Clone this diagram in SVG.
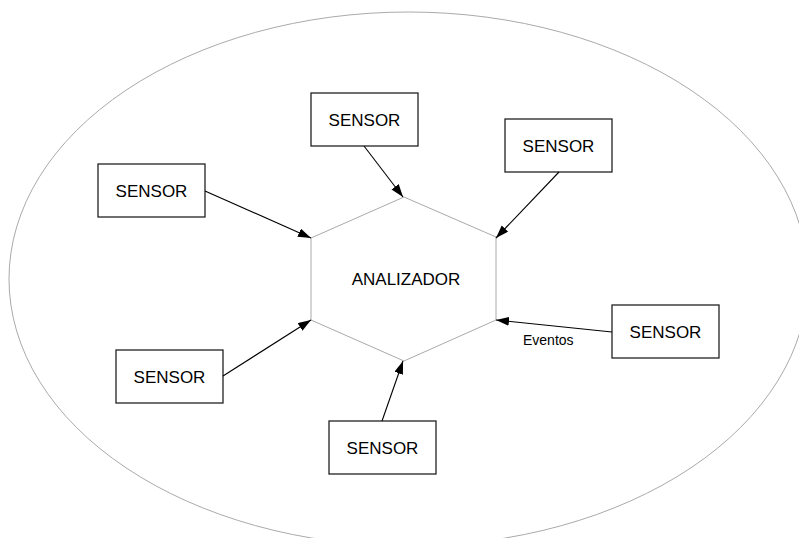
<svg xmlns="http://www.w3.org/2000/svg" width="799" height="538" viewBox="0 0 799 538">
  <style>
    .box { fill: #ffffff; stroke: #222222; stroke-width: 1.3; }
    .label { font-family: "Liberation Sans", Arial, sans-serif; font-size: 17px; fill: #000000; text-anchor: middle; }
    .edge { stroke: #000000; stroke-width: 1.1; fill: none; marker-end: url(#arrow); }
    .outline { fill: none; stroke: #aaaaaa; stroke-width: 1; }
  </style>
  <defs>
    <marker id="arrow" markerUnits="userSpaceOnUse" markerWidth="14" markerHeight="10" refX="13" refY="4.5" orient="auto">
      <path d="M0,0 L13,4.5 L0,9 z" fill="#000000"/>
    </marker>
  </defs>
  <rect width="799" height="538" fill="#ffffff"/>

  <!-- system boundary -->
  <ellipse id="boundary" class="outline" cx="408.5" cy="279" rx="399.5" ry="267"/>

  <!-- central analyzer -->
  <g id="analizador">
    <polygon class="outline" points="404,197 496,237 496,320 404,361 311,320 311,238"/>
    <text class="label" x="406" y="285">ANALIZADOR</text>
  </g>

  <!-- sensors -->
  <g id="sensor-top">
    <rect class="box" x="311" y="93" width="107" height="53"/>
    <text class="label" x="364.5" y="125.5">SENSOR</text>
  </g>
  <g id="sensor-upper-right">
    <rect class="box" x="505" y="119" width="107" height="53"/>
    <text class="label" x="558.5" y="151.5">SENSOR</text>
  </g>
  <g id="sensor-left">
    <rect class="box" x="98" y="164" width="107" height="53"/>
    <text class="label" x="151.5" y="196.5">SENSOR</text>
  </g>
  <g id="sensor-right">
    <rect class="box" x="612" y="305" width="107" height="53"/>
    <text class="label" x="665.5" y="337.5">SENSOR</text>
  </g>
  <g id="sensor-lower-left">
    <rect class="box" x="116" y="350" width="107" height="53"/>
    <text class="label" x="169.5" y="382.5">SENSOR</text>
  </g>
  <g id="sensor-bottom">
    <rect class="box" x="329" y="421" width="107" height="53"/>
    <text class="label" x="382.5" y="453.5">SENSOR</text>
  </g>

  <!-- event flows into the analyzer -->
  <g id="connectors">
    <line class="edge" x1="364" y1="146" x2="403" y2="197"/>
    <line class="edge" x1="559" y1="172" x2="496" y2="238"/>
    <line class="edge" x1="205" y1="191" x2="311" y2="238"/>
    <line class="edge" x1="612" y1="332" x2="496" y2="320"/>
    <line class="edge" x1="223" y1="376" x2="311" y2="320"/>
    <line class="edge" x1="382" y1="421" x2="403" y2="361"/>
    <text x="523" y="345" font-family="Liberation Sans, Arial, sans-serif" font-size="14" fill="#000000">Eventos</text>
  </g>
</svg>
